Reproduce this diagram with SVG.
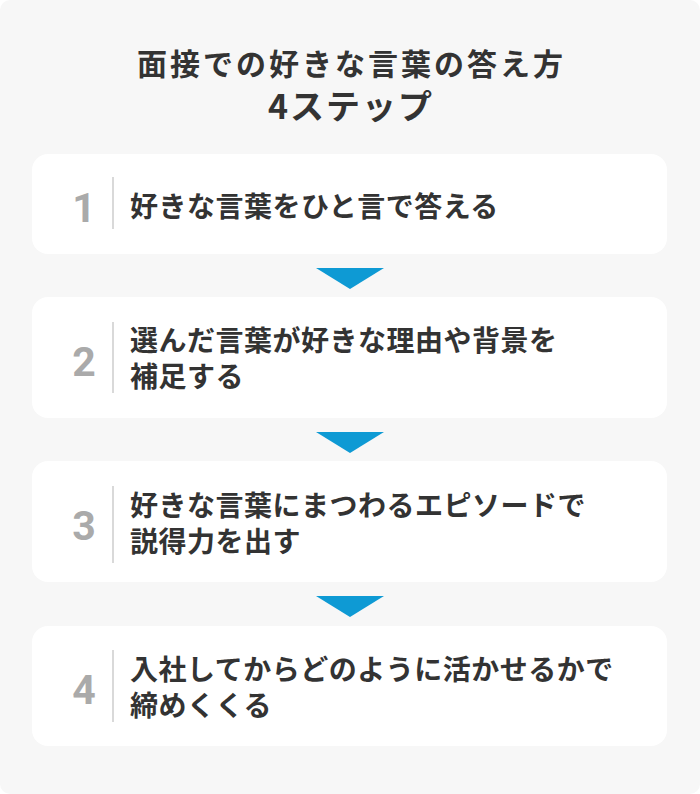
<svg xmlns="http://www.w3.org/2000/svg" width="700" height="794" viewBox="0 0 700 794">
<style>
.bg{fill:#f7f7f7}
.card{fill:#ffffff}
.title{font-family:"Noto Sans CJK JP","Noto Sans",sans-serif;font-weight:700;font-size:30px;fill:#333333;letter-spacing:3px;text-anchor:middle}
.title2{font-family:"Noto Sans CJK JP","Noto Sans",sans-serif;font-weight:700;font-size:34px;fill:#333333;letter-spacing:2px;text-anchor:middle}
.num{font-family:Roboto,"Liberation Sans",sans-serif;font-weight:700;font-size:41px;fill:#aaaaaa;text-anchor:middle}
.txt{font-family:"Noto Sans CJK JP","Noto Sans",sans-serif;font-weight:700;font-size:28px;fill:#333333;letter-spacing:0.5px}
.div{stroke:#cccccc;stroke-width:1.5}
.arrow{fill:#0e9ad4}
</style>
<rect class="bg" x="0" y="0" width="700" height="794" rx="10"/>
<g id="title">
<text class="title" x="351.5" y="75">面接での好きな言葉の答え方</text>
<text class="title2" x="351" y="119">4ステップ</text>
</g>
<g id="step1">
<rect class="card" x="32" y="154" width="635" height="100" rx="16"/>
<text class="num" x="84" y="222">1</text>
<line class="div" x1="113" y1="177" x2="113" y2="229"/>
<text class="txt" x="130" y="217">好きな言葉をひと言で答える</text>
</g>
<g id="step2">
<rect class="card" x="32" y="297" width="635" height="121" rx="16"/>
<text class="num" x="84" y="376">2</text>
<line class="div" x1="113" y1="322" x2="113" y2="393"/>
<text class="txt" x="130" y="351">選んだ言葉が好きな理由や背景を</text>
<text class="txt" x="130" y="387">補足する</text>
</g>
<g id="step3">
<rect class="card" x="32" y="461" width="635" height="121" rx="16"/>
<text class="num" x="84" y="540">3</text>
<line class="div" x1="113" y1="486" x2="113" y2="563"/>
<text class="txt" x="130" y="516">好きな言葉にまつわるエピソードで</text>
<text class="txt" x="130" y="552">説得力を出す</text>
</g>
<g id="step4">
<rect class="card" x="32" y="626" width="635" height="120" rx="16"/>
<text class="num" x="84" y="704">4</text>
<line class="div" x1="113" y1="650" x2="113" y2="722"/>
<text class="txt" x="130" y="680">入社してからどのように活かせるかで</text>
<text class="txt" x="130" y="716">締めくくる</text>
</g>
<g id="connectors">
<polygon class="arrow" points="316,268 384,268 350,289"/>
<polygon class="arrow" points="316,432 384,432 350,453"/>
<polygon class="arrow" points="316,596 384,596 350,617"/>
</g>
</svg>
